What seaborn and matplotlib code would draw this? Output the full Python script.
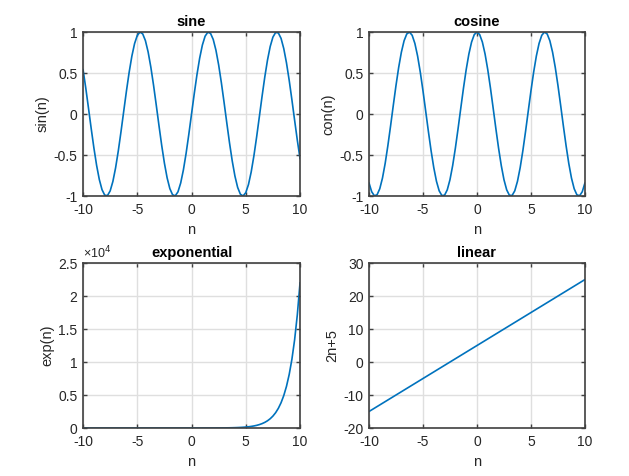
import matplotlib
matplotlib.use("Agg")
import matplotlib.pyplot as plt
from matplotlib.ticker import FuncFormatter, MultipleLocator
import seaborn as sns
import pandas as pd

# ---- data ----
n_trig = [-10.0, -9.75, -9.5, -9.25, -9.0, -8.75, -8.5, -8.25, -8.0, -7.75, -7.5, -7.25,
          -7.0, -6.75, -6.5, -6.25, -6.0, -5.75, -5.5, -5.25, -5.0, -4.75, -4.5, -4.25,
          -4.0, -3.75, -3.5, -3.25, -3.0, -2.75, -2.5, -2.25, -2.0, -1.75, -1.5, -1.25,
          -1.0, -0.75, -0.5, -0.25, 0.0, 0.25, 0.5, 0.75, 1.0, 1.25, 1.5, 1.75,
          2.0, 2.25, 2.5, 2.75, 3.0, 3.25, 3.5, 3.75, 4.0, 4.25, 4.5, 4.75,
          5.0, 5.25, 5.5, 5.75, 6.0, 6.25, 6.5, 6.75, 7.0, 7.25, 7.5, 7.75,
          8.0, 8.25, 8.5, 8.75, 9.0, 9.25, 9.5, 9.75, 10.0]

sine_vals = [0.5440, 0.3195, 0.0752, -0.1743, -0.4121, -0.6247, -0.7985, -0.9228, -0.9894,
             -0.9946, -0.9380, -0.8231, -0.6570, -0.4500, -0.2151, 0.0332, 0.2794, 0.5083,
             0.7055, 0.8589, 0.9589, 0.9993, 0.9775, 0.8950, 0.7568, 0.5716, 0.3508,
             0.1082, -0.1411, -0.3817, -0.5985, -0.7781, -0.9093, -0.9840, -0.9975, -0.9490,
             -0.8415, -0.6816, -0.4794, -0.2474, 0.0, 0.2474, 0.4794, 0.6816, 0.8415,
             0.9490, 0.9975, 0.9840, 0.9093, 0.7781, 0.5985, 0.3817, 0.1411, -0.1082,
             -0.3508, -0.5716, -0.7568, -0.8950, -0.9775, -0.9993, -0.9589, -0.8589, -0.7055,
             -0.5083, -0.2794, -0.0332, 0.2151, 0.4500, 0.6570, 0.8231, 0.9380, 0.9946,
             0.9894, 0.9228, 0.7985, 0.6247, 0.4121, 0.1743, -0.0752, -0.3195, -0.5440]

cosine_vals = [-0.8391, -0.9476, -0.9972, -0.9847, -0.9111, -0.7808, -0.6020, -0.3853, -0.1455,
               0.1039, 0.3466, 0.5679, 0.7539, 0.8930, 0.9766, 0.9994, 0.9602, 0.8612,
               0.7087, 0.5121, 0.2837, 0.0376, -0.2108, -0.4461, -0.6536, -0.8206, -0.9365,
               -0.9941, -0.9900, -0.9243, -0.8011, -0.6282, -0.4161, -0.1782, 0.0707, 0.3153,
               0.5403, 0.7317, 0.8776, 0.9689, 1.0, 0.9689, 0.8776, 0.7317, 0.5403,
               0.3153, 0.0707, -0.1782, -0.4161, -0.6282, -0.8011, -0.9243, -0.9900, -0.9941,
               -0.9365, -0.8206, -0.6536, -0.4461, -0.2108, 0.0376, 0.2837, 0.5121, 0.7087,
               0.8612, 0.9602, 0.9994, 0.9766, 0.8930, 0.7539, 0.5679, 0.3466, 0.1039,
               -0.1455, -0.3853, -0.6020, -0.7808, -0.9111, -0.9847, -0.9972, -0.9476, -0.8391]

n_exp = [-10.0, -9.0, -8.0, -7.0, -6.0, -5.0, -4.0, -3.0, -2.0, -1.0,
         0.0, 0.25, 0.5, 0.75, 1.0, 1.25, 1.5, 1.75, 2.0, 2.25, 2.5, 2.75,
         3.0, 3.25, 3.5, 3.75, 4.0, 4.25, 4.5, 4.75, 5.0, 5.25, 5.5, 5.75,
         6.0, 6.25, 6.5, 6.75, 7.0, 7.25, 7.5, 7.75, 8.0, 8.25, 8.5, 8.75,
         9.0, 9.25, 9.5, 9.75, 10.0]
exp_vals = [0.0000454, 0.0001234, 0.0003355, 0.0009119, 0.002479, 0.006738, 0.01832, 0.04979,
            0.1353, 0.3679,
            1.0, 1.284, 1.6487, 2.117, 2.7183, 3.4903, 4.4817, 5.7546, 7.3891, 9.4877,
            12.1825, 15.6426, 20.0855, 25.7903, 33.1155, 42.5211, 54.5982, 70.1054,
            90.0171, 115.5843, 148.4132, 190.5663, 244.6919, 314.1907, 403.4288,
            518.0128, 665.1416, 854.0588, 1096.633, 1408.105, 1808.042, 2321.572,
            2980.958, 3827.626, 4914.769, 6310.688, 8103.084, 10404.57, 13359.73,
            17154.23, 22026.47]

n_lin = [-10.0, 10.0]
lin_vals = [-15.0, 25.0]

titles = ["sine", "cosine", "exponential", "linear"]
ylabels = ["sin(n)", "con(n)", "exp(n)", "2n+5"]
xlabel = "n"

# ---- style ----
sns.set_theme(style="white")
plt.rcParams["font.family"] = ["Liberation Sans", "DejaVu Sans"]
plt.rcParams["axes.unicode_minus"] = False

LINE = "#0072BD"
DARK = "#262626"
AX = "#404040"
GRID = "#dfdfdf"

fig = plt.figure(figsize=(6.29, 4.76), dpi=100)
positions = [
    [0.1320, 0.5882, 0.3450, 0.3445],
    [0.5866, 0.5882, 0.3434, 0.3445],
    [0.1320, 0.1008, 0.3450, 0.3466],
    [0.5866, 0.1008, 0.3434, 0.3466],
]
series = [
    (n_trig, sine_vals),
    (n_trig, cosine_vals),
    (n_exp, exp_vals),
    (n_lin, lin_vals),
]
ylims = [(-1, 1), (-1, 1), (0, 25000), (-20, 30)]
ysteps = [0.5, 0.5, 5000, 10]

for i, pos in enumerate(positions):
    ax = fig.add_axes(pos)
    xs, ys = series[i]
    df = pd.DataFrame({"n": xs, "y": ys})
    sns.lineplot(data=df, x="n", y="y", ax=ax, color=LINE, linewidth=1.2, sort=False)
    ax.set_xlim(-10, 10)
    ax.set_ylim(*ylims[i])
    ax.xaxis.set_major_locator(MultipleLocator(5))
    ax.yaxis.set_major_locator(MultipleLocator(ysteps[i]))
    if i == 2:
        ax.yaxis.set_major_formatter(FuncFormatter(lambda v, p: "%g" % (v / 1e4)))
        ax.text(0.0, 1.01, "×10$^{4}$", transform=ax.transAxes, ha="left", va="bottom",
                fontsize=9, color=DARK)
    else:
        ax.yaxis.set_major_formatter(FuncFormatter(lambda v, p: "%g" % v))
    ax.xaxis.set_major_formatter(FuncFormatter(lambda v, p: "%g" % v))
    ax.grid(True, color=GRID, linewidth=1.0)
    ax.set_axisbelow(True)
    for s in ax.spines.values():
        s.set_visible(True)
        s.set_color(AX)
        s.set_linewidth(1.2)
    ax.tick_params(direction="in", length=3, width=1.0, color=AX, top=True, right=True,
                   bottom=True, left=True, labelsize=10, labelcolor=DARK)
    ax.tick_params(axis="x", pad=5)
    ax.tick_params(axis="y", pad=4)
    ax.set_title(titles[i], fontsize=10.5, fontweight="bold", color="#000000", pad=4)
    ax.set_xlabel(xlabel, fontsize=10.5, color=DARK, labelpad=4)
    ax.set_ylabel(ylabels[i], fontsize=10.5, color=DARK, labelpad=3)

fig.savefig("out.png", dpi=100)
